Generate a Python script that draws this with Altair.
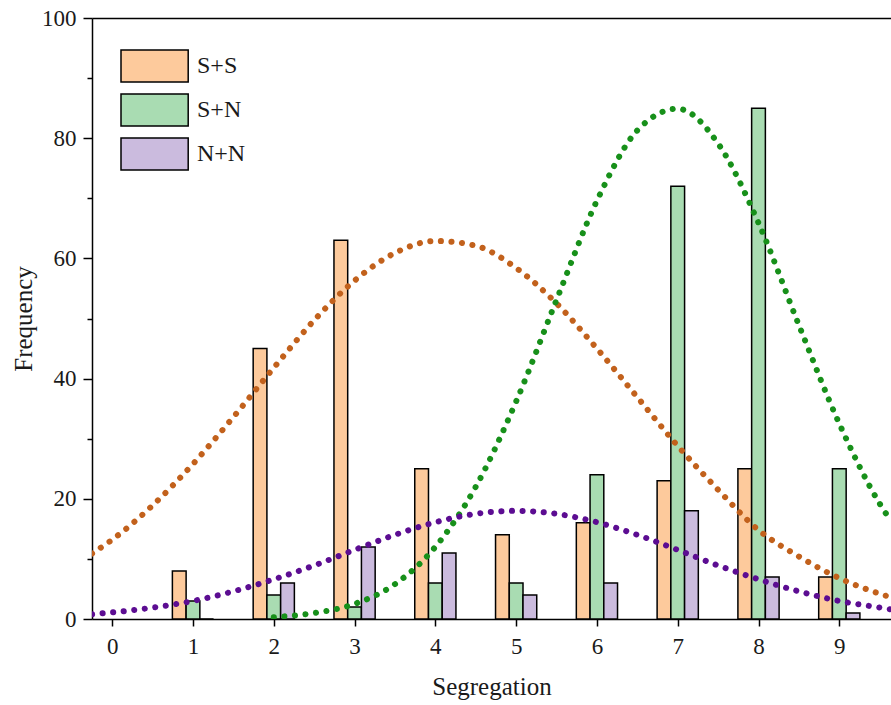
import altair as alt
import pandas as pd

# ---- data ----
segregation = [1, 2, 3, 4, 5, 6, 7, 8, 9]
ss_freq = [8, 45, 63, 25, 14, 16, 23, 25, 7]
sn_freq = [3, 4, 2, 6, 6, 24, 72, 85, 25]
nn_freq = [0, 6, 12, 11, 4, 6, 18, 7, 1]
groups = ["S+S", "S+N", "N+N"]

curve_x = [-0.25, 0, 0.5, 1, 1.5, 2, 2.5, 3, 3.5, 4, 4.5, 5, 5.5, 6, 6.5, 7, 7.5, 8, 8.5, 9, 9.5, 9.64]
ss_curve = [10.9, 13.2, 18.9, 25.8, 33.6, 41.8, 49.7, 56.3, 60.9, 62.9, 62.1, 58.4, 52.5, 45.0, 36.9, 28.8, 21.5, 14.8, 10.4, 6.8, 4.2, 3.6]
nn_curve = [0.8, 1.1, 1.9, 3.0, 4.6, 6.6, 8.9, 11.5, 14.0, 16.1, 17.5, 18.0, 17.5, 16.1, 14.0, 11.5, 8.9, 6.6, 4.6, 3.0, 1.9, 1.6]
sn_curve_x = [2, 2.5, 3, 3.5, 4, 4.5, 5, 5.5, 6, 6.5, 7, 7.5, 8, 8.5, 9, 9.5, 9.64]
sn_curve = [0.3, 1.0, 2.5, 5.8, 12.0, 22.0, 36.2, 53.1, 69.6, 81.3, 84.9, 79.1, 65.9, 48.9, 32.5, 19.2, 16.3]

x_ticks = [0, 1, 2, 3, 4, 5, 6, 7, 8, 9]
y_ticks = [0, 10, 20, 30, 40, 50, 60, 70, 80, 90, 100]

# ---- styles ----
fill_colors = ["#fdca9c", "#a9dcb2", "#cbbbde"]
line_colors = {"S+S": "#c2611c", "S+N": "#17901a", "N+N": "#5c0d92"}
FONT = "Liberation Serif"
TXT = "#1a1a1a"

bar_df = pd.DataFrame({
    "seg": segregation * 3,
    "group": [g for g in groups for _ in segregation],
    "freq": ss_freq + sn_freq + nn_freq,
})

curve_df = pd.concat([
    pd.DataFrame({"x": curve_x, "y": ss_curve, "series": "S+S"}),
    pd.DataFrame({"x": sn_curve_x, "y": sn_curve, "series": "S+N"}),
    pd.DataFrame({"x": curve_x, "y": nn_curve, "series": "N+N"}),
], ignore_index=True)

xscale = alt.Scale(domain=[-0.25, 9.64], nice=False, zero=False)
yscale = alt.Scale(domain=[0, 100], nice=False)

x_axis = alt.Axis(
    values=x_ticks, title="Segregation", tickSize=7, tickColor="black", tickWidth=1.5,
    domainColor="black", domainWidth=1.5, grid=False,
    labelFont=FONT, labelFontSize=23, labelColor=TXT, labelBaseline="alphabetic",
    labelPadding=27, labelFlush=False,
    titleFont=FONT, titleFontSize=25, titleFontWeight="normal", titleColor=TXT,
    titleBaseline="alphabetic", titleY=75,
)

y_axis = alt.Axis(
    values=y_ticks, title="Frequency", grid=False,
    tickSize={"condition": {"test": "datum.value % 20 === 0", "value": 9}, "value": 5},
    tickColor="black", tickWidth=1.5, domainColor="black", domainWidth=1.5,
    labelExpr="datum.value % 20 === 0 ? datum.label : ''",
    labelFont=FONT, labelFontSize=23, labelColor=TXT, labelPadding=7,
    titleFont=FONT, titleFontSize=25, titleFontWeight="normal", titleColor=TXT,
    titleAngle=270, titleBaseline="alphabetic", titleX=-61,
)

legend = alt.Legend(
    orient="none", legendX=28, legendY=31, title=None, padding=0,
    symbolType="M-1,-1H3.2V1H-1Z", symbolSize=1024,
    symbolStrokeColor="black", symbolStrokeWidth=1.5, symbolOpacity=1,
    labelFont=FONT, labelFontSize=24, labelColor=TXT, labelOffset=43,
    rowPadding=6,
)

bars = alt.Chart(bar_df).transform_calculate(
    idx="datum.group === 'S+S' ? -1 : (datum.group === 'S+N' ? 0 : 1)"
).transform_calculate(
    x0="datum.seg + datum.idx * 0.17 - 0.085",
    x1="datum.seg + datum.idx * 0.17 + 0.085",
).mark_bar(stroke="black", strokeWidth=1.5, opacity=1).encode(
    x=alt.X("x0:Q", scale=xscale, axis=x_axis),
    x2="x1:Q",
    y=alt.Y("freq:Q", scale=yscale, axis=y_axis),
    y2=alt.datum(0),
    fill=alt.Fill("group:N", scale=alt.Scale(domain=groups, range=fill_colors), legend=legend),
)

top_axis = alt.Axis(orient="top", labels=False, ticks=False, title=None,
                    domainColor="black", domainWidth=1.5, grid=False)

line_layers = []
for i, g in enumerate(groups):
    ax = top_axis if i == 0 else None
    line_layers.append(
        alt.Chart(curve_df).transform_filter(alt.datum.series == g).mark_line(
            strokeDash=[0.1, 10.5], strokeCap="round", strokeWidth=6,
            interpolate="monotone", clip=True, color=line_colors[g],
        ).encode(
            x=alt.X("x:Q", scale=xscale, axis=ax),
            y=alt.Y("y:Q", scale=yscale),
        )
    )

chart = alt.layer(bars, *line_layers).resolve_axis(x="independent").properties(
    width=799, height=601,
    autosize=alt.AutoSizeParams(type="none"),
    padding={"left": 92, "top": 18, "right": 0, "bottom": 86},
    background="white",
).configure_view(stroke=None)

chart.save("out.html", embed_options={"renderer": "svg", "actions": False})
